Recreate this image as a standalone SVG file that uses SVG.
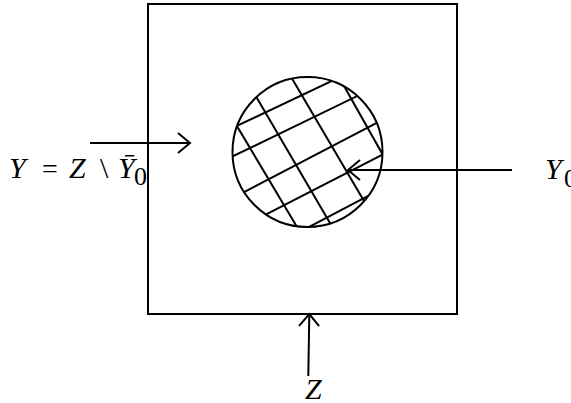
<svg xmlns="http://www.w3.org/2000/svg" width="571" height="403" viewBox="0 0 571 403">
  <style>
    .edge { fill: none; stroke: #000; stroke-width: 2; }
    .hatch { fill: none; stroke: #000; stroke-width: 2; }
    .t { font-family: "Liberation Serif", "DejaVu Serif", serif; fill: #000; }
    .i { font-style: italic; }
  </style>
  <defs>
    <marker id="arr" markerUnits="userSpaceOnUse" markerWidth="30" markerHeight="30" refX="14" refY="15" orient="auto" viewBox="0 0 30 30">
      <path d="M2,5 L14,15 L2,25" fill="none" stroke="#000" stroke-width="2"/>
    </marker>
    <clipPath id="disc">
      <circle cx="307.5" cy="152" r="75"/>
    </clipPath>
  </defs>

  <g id="Z-region">
    <rect x="148" y="4" width="309" height="310" class="edge"/>
  </g>

  <g id="Y0-region">
    <g clip-path="url(#disc)" class="hatch">
      <line x1="203.6" y1="70" x2="301.8" y2="235"/>
      <line x1="240.5" y1="70" x2="337" y2="235"/>
      <line x1="287" y1="70" x2="384" y2="235"/>
      <line x1="335" y1="70" x2="428" y2="235"/>
      <line x1="225" y1="131.5" x2="390" y2="53.4"/>
      <line x1="225" y1="160.1" x2="390" y2="80.1"/>
      <line x1="225" y1="202.1" x2="390" y2="115.9"/>
      <line x1="225" y1="235.6" x2="390" y2="150.8"/>
      <line x1="225" y1="271" x2="390" y2="184.5"/>
    </g>
    <circle cx="307.5" cy="152" r="75" class="edge"/>
  </g>

  <g id="connectors">
    <line x1="90" y1="143" x2="190" y2="143" class="edge" marker-end="url(#arr)"/>
    <line x1="512" y1="170" x2="348" y2="170" class="edge" marker-end="url(#arr)"/>
    <line x1="308.3" y1="376" x2="309.3" y2="314" class="edge" marker-end="url(#arr)"/>
  </g>

  <g id="label-Y">
    <text class="t" font-size="30" y="177.5"><tspan class="i" x="9">Y</tspan><tspan x="42" font-size="28" transform="scale(1.2,1)">=</tspan><tspan class="i" x="69">Z</tspan><tspan x="100">\</tspan><tspan class="i" x="118">Ȳ</tspan></text>
    <text class="t" font-size="26" x="134" y="185">0</text>
  </g>

  <g id="label-Y0">
    <text class="t i" font-size="30" x="545" y="179">Y</text>
    <text class="t" font-size="26" x="564" y="187">0</text>
  </g>

  <g id="label-Z">
    <text class="t i" font-size="30" x="305" y="399">Z</text>
  </g>
</svg>
